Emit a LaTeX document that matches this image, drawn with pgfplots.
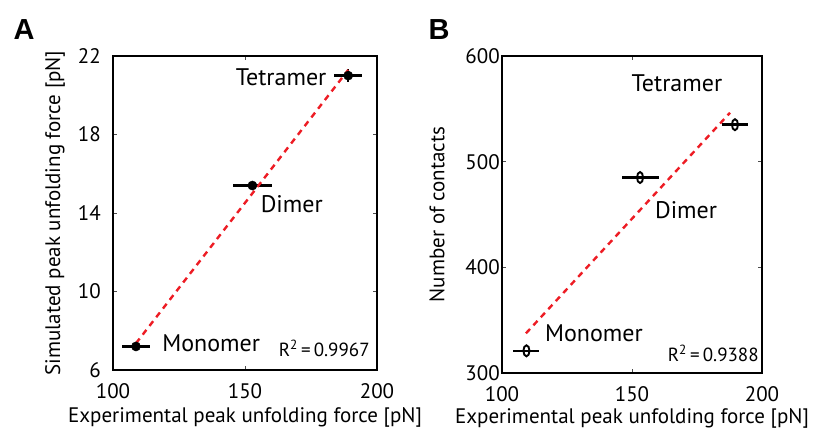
\documentclass[border=0pt]{standalone}
\usepackage{pgfplots}
\pgfplotsset{compat=1.18}
\usepackage{fontspec}
\setmainfont{PT Sans}
\definecolor{fitred}{RGB}{237,28,36}
\tikzset{
  ann/.style={inner sep=0pt, font=\fontsize{24}{28}\selectfont},
  rsq/.style={inner sep=0pt, font=\fontsize{19}{22}\selectfont},
}
\begin{document}
\fontsize{21}{25}\selectfont
\begin{tikzpicture}
\useasboundingbox (0pt,0pt) rectangle (815pt,429pt);
\pgfplotsset{
  every axis/.append style={
    scale only axis,
    axis line style={line width=1.4pt},
    tick align=inside,
    major tick length=4pt,
    tick style={line width=0.6pt, color=black!70},
    /pgf/number format/assume math mode=true,
    ticklabel style={font=\fontsize{21}{25}\selectfont},
    label style={font=\fontsize{21}{25}\selectfont},
    xmin=100, xmax=200, xtick={100,150,200},
    xticklabel style={yshift=-6pt},
    clip=false,
  },
}
% Panel A
\begin{axis}[at={(113pt,59pt)}, anchor=south west, width=264pt, height=314pt,
  ymin=6, ymax=22, ytick={6,10,14,18,22},
  yticklabel style={xshift=-5pt},
  xlabel={Experimental peak unfolding force [pN]},
  ylabel={Simulated peak unfolding force [pN]},
  xlabel style={at={(axis description cs:0.5,0)}, anchor=center, yshift=-47pt},
  ylabel style={at={(axis description cs:0,0.5)}, anchor=center, yshift=58pt},
  ]
\addplot[only marks, black, mark=*, mark size=4.6pt,
  error bars/.cd, x dir=both, x explicit, y dir=both, y explicit,
  error bar style={line width=2.4pt}, error mark=none]
  coordinates {
  (108.7,7.2) +- (5.4,0.2)
  (152.8,15.4) +- (7.5,0.2)
  (189.1,21.0) +- (5.3,0.35)
  };
\addplot[fitred, line width=2.4pt, dash pattern=on 6pt off 5pt] coordinates {(108.7,7.36) (189.1,21.29)};
\node[ann, anchor=east] at (axis cs:180.9,20.9) {Tetramer};
\node[ann, anchor=west] at (axis cs:155.9,14.46) {Dimer};
\node[ann, anchor=west] at (axis cs:118.6,7.38) {Monomer};
\node[rsq, anchor=east] at (axis cs:197.3,7.1) {R$^{\mathrm{2}}$\,=\,0.9967};
\end{axis}
\node[anchor=center] at (24pt,399pt) {\fontsize{29}{30}\selectfont\fontspec{Liberation Sans}\bfseries A};
% Panel B
\begin{axis}[at={(502pt,56pt)}, anchor=south west, width=260pt, height=317pt,
  ymin=300, ymax=600, ytick={300,400,500,600},
  yticklabel style={xshift=5pt},
  xlabel={Experimental peak unfolding force [pN]},
  ylabel={Number of contacts},
  xlabel style={at={(axis description cs:0.5,0)}, anchor=center, yshift=-45pt},
  ylabel style={at={(axis description cs:0,0.5)}, anchor=center, yshift=65pt},
  ]
\addplot[only marks, black, mark=o, mark size=5.5pt, mark options={xscale=0.55, line width=1.9pt},
  error bars/.cd, x dir=both, x explicit,
  error bar style={line width=2.4pt}, error mark=none]
  coordinates {
  (109.4,321) +- (5,0)
  (153.1,485) +- (7.1,0)
  (189.6,535) +- (5,0)
  };
\addplot[fitred, line width=2.4pt, dash pattern=on 6pt off 5pt] coordinates {(109.2,337.5) (187.7,546.3)};
\node[ann, anchor=west] at (axis cs:149.8,574) {Tetramer};
\node[ann, anchor=west] at (axis cs:158.8,454) {Dimer};
\node[ann, anchor=west] at (axis cs:116.5,338) {Monomer};
\node[rsq, anchor=east] at (axis cs:198.8,318.6) {R$^{\mathrm{2}}$\,=\,0.9388};
\end{axis}
\node[anchor=center] at (439pt,399pt) {\fontsize{29}{30}\selectfont\fontspec{Liberation Sans}\bfseries B};
\end{tikzpicture}
\end{document}
